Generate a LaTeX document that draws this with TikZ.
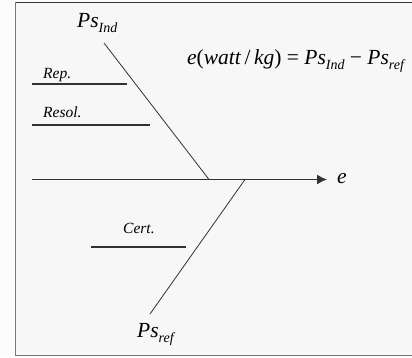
\documentclass[tikz,border=0pt]{standalone}
\usepackage{fontspec}
\setmainfont{Liberation Serif}
\usetikzlibrary{arrows.meta}
\definecolor{bgc}{RGB}{247,247,247}
\definecolor{outc}{RGB}{251,251,251}
\definecolor{linec}{RGB}{50,50,50}
\definecolor{framec}{RGB}{120,120,120}
\newcommand\mysub[1]{\raisebox{-0.25em}{\fontsize{14}{14}\selectfont #1}}
\begin{document}
\begin{tikzpicture}[x=1pt,y=-1pt,
  lbl/.style={font=\fontsize{15.5}{15.5}\selectfont\itshape, inner sep=0pt, anchor=base west},
  big/.style={font=\fontsize{21.5}{21.5}\selectfont\itshape, inner sep=0pt, anchor=base west},
  bone/.style={draw=linec, line width=1.4pt},
  diag/.style={draw=linec, line width=0.8pt},
  rib/.style={draw=linec, line width=1.3pt}]
\useasboundingbox (0,0) rectangle (412,357);
\fill[outc] (0,0) rectangle (412,357);
\fill[bgc] (15,2) rectangle (412,356);
% frame
\draw[linec, line width=1pt] (15,2) -- (412,2);
\draw[framec, line width=1.6pt] (15.5,2) -- (15.5,355.5) -- (412,355.5);
% labels
\node[big] (psind) at (77,27) {Ps\mysub{Ind}};
\node[big] (psref) at (137,337) {Ps\mysub{ref}};
\node[big] (elab) at (337,183) {e};
\node[big] (eq) at (187,64) {e{\upshape(}watt\,{\upshape/}\,kg{\upshape)} {\upshape=} Ps\mysub{Ind} {\upshape −} Ps\mysub{ref}};
\node[lbl] (rep) at (43,78) {Rep.};
\node[lbl] (resol) at (43,117) {Resol.};
\node[lbl] (cert) at (123,233) {Cert.};
% coordinates
\coordinate (a0) at (32,179.5);
\coordinate (a1) at (327,179.5);
\coordinate (u0) at (104,43);
\coordinate (u1) at (209,179.5);
\coordinate (l0) at (245,179.5);
\coordinate (l1) at (150,314);
\coordinate (r1a) at (32,84);
\coordinate (r1b) at (127,84);
\coordinate (r2a) at (32,125);
\coordinate (r2b) at (150,125);
\coordinate (r3a) at (91,247);
\coordinate (r3b) at (186,247);
% lines
\draw[bone, -{Latex[length=10pt,width=10pt]}] (a0) -- (a1);
\draw[diag] (u0) -- (u1);
\draw[diag] (l0) -- (l1);
\draw[rib] (r1a) -- (r1b);
\draw[rib] (r2a) -- (r2b);
\draw[rib] (r3a) -- (r3b);
\end{tikzpicture}
\end{document}
